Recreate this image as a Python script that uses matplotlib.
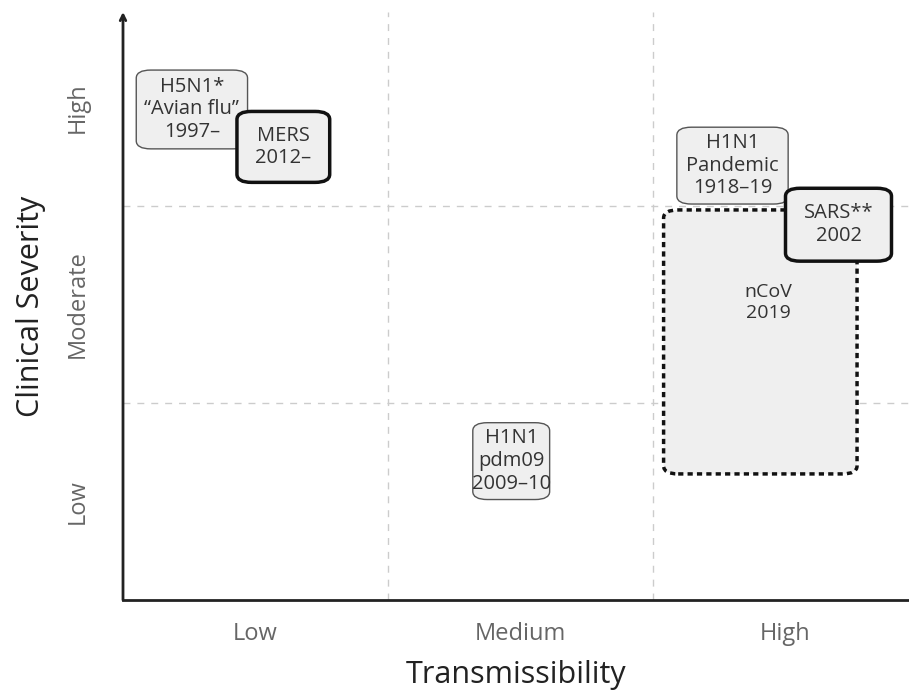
import matplotlib
matplotlib.use('Agg')
import matplotlib.pyplot as plt
from matplotlib.patches import FancyBboxPatch

plt.rcParams['font.family'] = ['Open Sans', 'DejaVu Sans']

# data: each virus as a box on transmissibility (x) / severity (y) grid, 0-3 scale
labels = ['H5N1*\n\u201cAvian flu\u201d\n1997\u2013', 'MERS\n2012\u2013',
          'H1N1\nPandemic\n1918\u201319', 'SARS**\n2002', 'H1N1\npdm09\n2009\u201310']
trans_lo = [0.05, 0.43, 2.09, 2.50, 1.32]
trans_hi = [0.47, 0.78, 2.51, 2.90, 1.61]
sev_lo = [2.29, 2.12, 2.01, 1.72, 0.51]
sev_hi = [2.69, 2.48, 2.40, 2.09, 0.90]
heavy = [False, True, False, True, False]

ncov_label = 'nCoV\n2019'
ncov_trans = [2.04, 2.77]
ncov_sev = [0.64, 1.98]

tick_pos = [0.5, 1.5, 2.5]
x_ticklabels = ['Low', 'Medium', 'High']
y_ticklabels = ['Low', 'Moderate', 'High']

W, H = 909, 699
fig = plt.figure(figsize=(W / 100, H / 100), dpi=100)
ax = fig.add_axes([123 / W, 99 / H, (W - 123) / W, (600 - 12) / H])
xmax = (W - 123) / 265
ymax = (600 - 12) / 197
ax.set_xlim(0, xmax)
ax.set_ylim(0, ymax)
aspect = 265 / 197

# grid
for v in [1, 2]:
    ax.axvline(v, color='#cccccc', lw=1, ls=(0, (5, 5)), zorder=0)
    ax.axhline(v, color='#cccccc', lw=1, ls=(0, (5, 5)), zorder=0)

# nCoV dotted region (drawn first, under SARS)
r = 0.055
ax.add_patch(FancyBboxPatch((ncov_trans[0], ncov_sev[0]), ncov_trans[1] - ncov_trans[0],
                            ncov_sev[1] - ncov_sev[0],
                            boxstyle=f'round,pad=0,rounding_size={r}', mutation_aspect=1 / aspect,
                            fc='#efefef', ec='#111111', lw=2.5, ls=(0, (1.5, 1.2)), zorder=2))
ax.text(sum(ncov_trans) / 2 + 0.03, 1.51, ncov_label, ha='center', va='center',
        fontsize=14, color='#333333', linespacing=1.25, zorder=3)

for i in range(len(labels)):
    ax.add_patch(FancyBboxPatch((trans_lo[i], sev_lo[i]), trans_hi[i] - trans_lo[i],
                                sev_hi[i] - sev_lo[i],
                                boxstyle=f'round,pad=0,rounding_size={r}', mutation_aspect=1 / aspect,
                                fc='#efefef', ec='#111111' if heavy[i] else '#555555',
                                lw=2.5 if heavy[i] else 1.0, zorder=4 + i))
    ax.text((trans_lo[i] + trans_hi[i]) / 2, (sev_lo[i] + sev_hi[i]) / 2, labels[i],
            ha='center', va='center', fontsize=14.5, color='#333333',
            linespacing=1.18, zorder=4 + i)

# axes
for s in ['top', 'right']:
    ax.spines[s].set_visible(False)
ax.spines['left'].set_visible(False)
ax.spines['bottom'].set_color('#222222')
ax.spines['bottom'].set_linewidth(2)
ax.annotate('', xy=(0, ymax), xytext=(0, 0), xycoords='data',
            arrowprops=dict(arrowstyle='->', color='#222222', lw=2, shrinkA=0, shrinkB=0),
            annotation_clip=False)

ax.set_xticks(tick_pos)
ax.set_xticklabels(x_ticklabels, fontsize=17, color='#666666')
ax.set_yticks(tick_pos)
ax.set_yticklabels(y_ticklabels, fontsize=17, color='#666666', rotation=90, va='center')
ax.tick_params(length=0)
ax.tick_params(axis='x', pad=16)
ax.tick_params(axis='y', pad=24)
ax.set_xlabel('Transmissibility', fontsize=22, color='#222222', labelpad=10)
ax.set_ylabel('Clinical Severity', fontsize=22, color='#222222', labelpad=14)

fig.savefig('out.png', dpi=100)
